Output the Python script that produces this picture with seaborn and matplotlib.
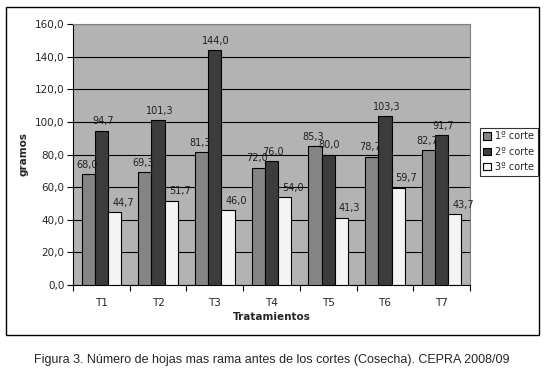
import matplotlib
matplotlib.use("Agg")
import matplotlib.pyplot as plt
import matplotlib.patches as mpatches
import numpy as np
import pandas as pd
import seaborn as sns

# data
tratamientos = ["T1", "T2", "T3", "T4", "T5", "T6", "T7"]
cortes = ["1º corte", "2º corte", "3º corte"]
corte1 = [68.0, 69.3, 81.3, 72.0, 85.3, 78.7, 82.7]
corte2 = [94.7, 101.3, 144.0, 76.0, 80.0, 103.3, 91.7]
corte3 = [44.7, 51.7, 46.0, 54.0, 41.3, 59.7, 43.7]

df = pd.DataFrame({
    "tratamiento": tratamientos * 3,
    "corte": [c for c in cortes for _ in tratamientos],
    "gramos": corte1 + corte2 + corte3,
})

sns.set_theme(style="white")
plt.rcParams["font.family"] = ["DejaVu Sans"]

colors = ["#858585", "#3c3c3c", "#f4f4f4"]

fig = plt.figure(figsize=(5.45, 3.76), dpi=100)
ax = fig.add_axes([73 / 545, 1 - 285 / 376, (470 - 73) / 545, (285 - 24) / 376])

sns.barplot(data=df, x="tratamiento", y="gramos", hue="corte", palette=colors,
            width=0.7, edgecolor="black", linewidth=0.8, ax=ax, legend=False,
            errorbar=None, zorder=3)

ax.set_facecolor("#b3b3b3")
ax.set_ylim(0, 160)
ax.set_xlim(-0.5, 6.5)
yt = np.arange(0, 161, 20)
ax.set_yticks(yt)
ax.set_yticklabels([f"{v:.1f}".replace(".", ",") for v in yt], fontsize=7.5)
ax.yaxis.grid(True, color="black", linewidth=0.8, zorder=0)
ax.set_axisbelow(True)

ax.set_xticks(range(len(tratamientos)))
ax.set_xticklabels(tratamientos, fontsize=7.5)
ax.set_xticks(np.arange(-0.5, 7, 1), minor=True)
ax.tick_params(axis="x", which="major", length=0, pad=9)
ax.tick_params(axis="x", which="minor", length=4, width=0.8, color="black", direction="out", bottom=True)
ax.tick_params(axis="y", length=4, width=0.8, color="black", direction="out", left=True, pad=2)

for side in ["top", "right"]:
    ax.spines[side].set_color("#808080")
    ax.spines[side].set_linewidth(0.8)
for side in ["left", "bottom"]:
    ax.spines[side].set_color("black")
    ax.spines[side].set_linewidth(0.8)

ax.set_xlabel("Tratamientos", fontsize=7.5, fontweight="bold", labelpad=3)
ax.set_ylabel("gramos", fontsize=7.5, fontweight="bold", labelpad=5)

# value labels; the 3rd series sits a little to the right, as in the original
shifts = [-1, 1, 6]
for cont, dx in zip(ax.containers, shifts):
    for b in cont:
        ax.annotate(f"{b.get_height():.1f}".replace(".", ","),
                    (b.get_x() + b.get_width() / 2, b.get_height()),
                    xytext=(dx, 3), textcoords="offset points",
                    ha="center", va="bottom", fontsize=7, color="#202020")

# legend
handles = [mpatches.Patch(facecolor=c, edgecolor="black", linewidth=0.8, label=l)
           for c, l in zip(colors, cortes)]
leg = fig.legend(handles=handles, loc="upper left", bbox_to_anchor=(480 / 545, 1 - 128 / 376),
                 fontsize=7, frameon=True, fancybox=False, handlelength=0.8, handleheight=0.8,
                 handletextpad=0.4, borderpad=0.35, labelspacing=0.55, borderaxespad=0)
leg.get_frame().set_edgecolor("black")
leg.get_frame().set_linewidth(0.8)

# outer chart border
fig.patches.append(mpatches.Rectangle((6 / 545, 1 - 335 / 376), (539 - 6) / 545, (335 - 7) / 376,
                                      transform=fig.transFigure, fill=False, edgecolor="black",
                                      linewidth=1.0))

fig.text(272 / 545, 1 - 360 / 376,
         "Figura 3. Número de hojas mas rama antes de los cortes (Cosecha). CEPRA 2008/09",
         ha="center", va="center", fontsize=9, family=["Liberation Sans", "DejaVu Sans"])

fig.savefig("out.png", dpi=100, facecolor="white")
